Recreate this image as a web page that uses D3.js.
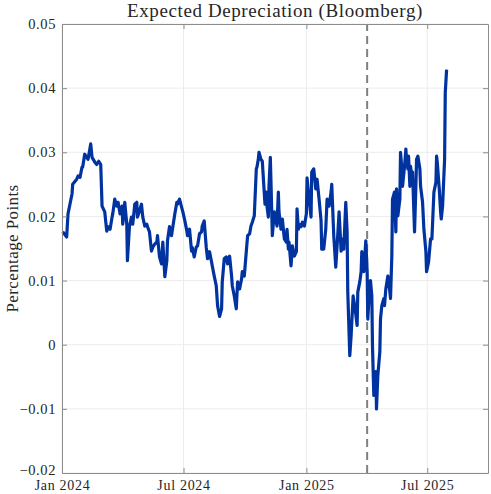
<!DOCTYPE html>
<html>
<head>
<meta charset="utf-8">
<script src="https://cdn.jsdelivr.net/npm/d3@7"></script>
<style>
  body { margin: 0; background: #fff; }
  svg text { font-family: "Liberation Serif", "DejaVu Serif", serif; fill: #262626; }
</style>
</head>
<body>
<div id="chart"></div>
<script>
// Expected depreciation, percentage points
var dates = [
  '2024-01-02','2024-01-08','2024-01-10','2024-01-16','2024-01-17','2024-01-23','2024-01-25','2024-01-28',
  '2024-01-31','2024-02-01','2024-02-04','2024-02-07','2024-02-09','2024-02-13','2024-02-15','2024-02-19',
  '2024-02-22','2024-02-25','2024-02-28','2024-03-01','2024-03-05','2024-03-08','2024-03-10','2024-03-13',
  '2024-03-16','2024-03-17','2024-03-20','2024-03-23','2024-03-25','2024-03-28','2024-03-31','2024-04-01',
  '2024-04-04','2024-04-07','2024-04-08','2024-04-11','2024-04-14','2024-04-16','2024-04-19','2024-04-22',
  '2024-04-23','2024-04-26','2024-04-29','2024-05-01','2024-05-04','2024-05-07','2024-05-08','2024-05-11',
  '2024-05-14','2024-05-16','2024-05-19','2024-05-22','2024-05-23','2024-05-26','2024-05-29','2024-05-31',
  '2024-06-03','2024-06-06','2024-06-07','2024-06-10','2024-06-13','2024-06-15','2024-06-18','2024-06-21',
  '2024-06-22','2024-06-25','2024-06-28','2024-06-30','2024-07-03','2024-07-06','2024-07-07','2024-07-10',
  '2024-07-13','2024-07-14','2024-07-17','2024-07-20','2024-07-22','2024-07-25','2024-07-28','2024-07-29',
  '2024-08-01','2024-08-04','2024-08-06','2024-08-09','2024-08-12','2024-08-13','2024-08-16','2024-08-19',
  '2024-08-21','2024-08-24','2024-08-27','2024-08-28','2024-08-31','2024-09-03','2024-09-05','2024-09-08',
  '2024-09-11','2024-09-12','2024-09-15','2024-09-18','2024-09-20','2024-09-23','2024-09-26','2024-09-27',
  '2024-09-30','2024-10-03','2024-10-05','2024-10-08','2024-10-10','2024-10-12','2024-10-15','2024-10-18',
  '2024-10-19','2024-10-21','2024-10-22','2024-10-25','2024-10-27','2024-10-28','2024-10-31','2024-11-02',
  '2024-11-03','2024-11-05','2024-11-06','2024-11-08','2024-11-09','2024-11-11','2024-11-14','2024-11-17',
  '2024-11-18','2024-11-20','2024-11-21','2024-11-24','2024-11-26','2024-11-29','2024-12-02','2024-12-03',
  '2024-12-05','2024-12-06','2024-12-09','2024-12-11','2024-12-14','2024-12-17','2024-12-18','2024-12-20',
  '2024-12-21','2024-12-24','2024-12-26','2024-12-29','2025-01-01','2025-01-02','2025-01-05','2025-01-08',
  '2025-01-09','2025-01-12','2025-01-15','2025-01-17','2025-01-20','2025-01-23','2025-01-24','2025-01-27',
  '2025-01-30','2025-02-01','2025-02-04','2025-02-07','2025-02-08','2025-02-11','2025-02-14','2025-02-16',
  '2025-02-19','2025-02-22','2025-02-23','2025-02-26','2025-03-01','2025-03-03','2025-03-04','2025-03-07',
  '2025-03-09','2025-03-12','2025-03-15','2025-03-18','2025-03-19','2025-03-22','2025-03-24','2025-03-25',
  '2025-03-28','2025-03-31','2025-04-02','2025-04-03','2025-04-06','2025-04-07','2025-04-09','2025-04-10',
  '2025-04-12','2025-04-15','2025-04-16','2025-04-18','2025-04-21','2025-04-22','2025-04-24','2025-04-27',
  '2025-04-28','2025-04-30','2025-05-03','2025-05-04','2025-05-07','2025-05-09','2025-05-10','2025-05-13',
  '2025-05-15','2025-05-16','2025-05-18','2025-05-21','2025-05-22','2025-05-24','2025-05-25','2025-05-28',
  '2025-05-30','2025-05-31','2025-06-02','2025-06-03','2025-06-05','2025-06-06','2025-06-08','2025-06-09',
  '2025-06-12','2025-06-14','2025-06-15','2025-06-17','2025-06-20','2025-06-21','2025-06-24','2025-06-26',
  '2025-06-29','2025-06-30','2025-07-03','2025-07-06','2025-07-08','2025-07-11','2025-07-14','2025-07-15',
  '2025-07-16','2025-07-19','2025-07-21','2025-07-22','2025-07-24','2025-07-27','2025-07-28','2025-07-30'
];

var values = [
  0.0176,0.0168,0.0204,0.0235,0.0250,0.0258,0.0263,0.0261,
  0.0277,0.0277,0.0297,0.0292,0.0289,0.0313,0.0292,0.0285,
  0.0281,0.0286,0.0281,0.0216,0.0207,0.0177,0.0184,0.0180,
  0.0199,0.0204,0.0227,0.0216,0.0222,0.0204,0.0216,0.0188,
  0.0222,0.0188,0.0131,0.0184,0.0199,0.0188,0.0219,0.0222,
  0.0199,0.0208,0.0219,0.0199,0.0185,0.0188,0.0184,0.0176,
  0.0146,0.0152,0.0157,0.0160,0.0170,0.0137,0.0126,0.0160,
  0.0106,0.0131,0.0162,0.0184,0.0170,0.0184,0.0204,0.0222,
  0.0219,0.0227,0.0215,0.0207,0.0193,0.0177,0.0170,0.0180,
  0.0146,0.0152,0.0137,0.0152,0.0154,0.0173,0.0176,0.0185,
  0.0193,0.0152,0.0134,0.0145,0.0129,0.0123,0.0107,0.0092,
  0.0061,0.0044,0.0056,0.0098,0.0134,0.0137,0.0126,0.0138,
  0.0107,0.0092,0.0076,0.0056,0.0098,0.0087,0.0103,0.0114,
  0.0107,0.0145,0.0170,0.0173,0.0185,0.0191,0.0201,0.0274,
  0.0277,0.0289,0.0300,0.0289,0.0286,0.0269,0.0219,0.0238,
  0.0216,0.0199,0.0247,0.0292,0.0253,0.0170,0.0207,0.0191,
  0.0185,0.0238,0.0207,0.0180,0.0196,0.0165,0.0160,0.0180,
  0.0149,0.0160,0.0123,0.0154,0.0138,0.0145,0.0212,0.0180,
  0.0188,0.0184,0.0191,0.0185,0.0204,0.0260,0.0227,0.0199,
  0.0269,0.0274,0.0243,0.0258,0.0227,0.0193,0.0149,0.0149,
  0.0180,0.0227,0.0216,0.0238,0.0250,0.0170,0.0121,0.0154,
  0.0207,0.0146,0.0165,0.0149,0.0222,0.0176,0.0082,-0.0017,
  0.0014,0.0076,0.0056,0.0030,0.0082,0.0098,0.0114,0.0145,
  0.0114,0.0162,0.0114,0.0040,0.0098,0.0100,0.0076,-0.0002,
  -0.0079,-0.0042,-0.0100,-0.0048,-0.0011,0.0040,0.0061,0.0072,
  0.0061,0.0087,0.0107,0.0103,0.0072,0.0140,0.0227,0.0238,
  0.0176,0.0243,0.0201,0.0227,0.0300,0.0274,0.0247,0.0278,
  0.0305,0.0289,0.0274,0.0294,0.0247,0.0278,0.0263,0.0269,
  0.0176,0.0247,0.0289,0.0294,0.0274,0.0247,0.0222,0.0180,
  0.0145,0.0114,0.0129,0.0165,0.0165,0.0238,0.0253,0.0294,
  0.0285,0.0243,0.0207,0.0196,0.0216,0.0289,0.0393,0.0429
];

var yTicks = [-0.02, -0.01, 0, 0.01, 0.02, 0.03, 0.04, 0.05];
var xTickDates = ['2024-01-01', '2024-07-01', '2025-01-01', '2025-07-01'];
var xTickLabels = ['Jan 2024', 'Jul 2024', 'Jan 2025', 'Jul 2025'];
var eventDate = '2025-04-02';

var width = 491, height = 494;
var margin = { top: 24, right: 3, bottom: 21, left: 62 };
var parse = d3.timeParse('%Y-%m-%d');

var data = dates.map((d, i) => ({ date: parse(d), value: values[i] }));

var x = d3.scaleTime()
  .domain([parse('2024-01-01'), parse('2025-09-30')])
  .range([margin.left, width - margin.right]);

var y = d3.scaleLinear()
  .domain([-0.02, 0.05])
  .range([height - margin.bottom, margin.top]);

var svg = d3.select('#chart').append('svg')
  .attr('width', width)
  .attr('height', height);

// grid
svg.append('g')
  .selectAll('line')
  .data(yTicks)
  .join('line')
  .attr('x1', x.range()[0]).attr('x2', x.range()[1])
  .attr('y1', (d) => y(d)).attr('y2', (d) => y(d))
  .attr('stroke', '#ececec');

svg.append('g')
  .selectAll('line')
  .data(xTickDates.map(parse))
  .join('line')
  .attr('x1', (d) => x(d)).attr('x2', (d) => x(d))
  .attr('y1', y.range()[0]).attr('y2', y.range()[1])
  .attr('stroke', '#ececec');

// event marker
svg.append('line')
  .attr('x1', x(parse(eventDate))).attr('x2', x(parse(eventDate)))
  .attr('y1', y.range()[0]).attr('y2', y.range()[1])
  .attr('stroke', '#808080')
  .attr('stroke-width', 2)
  .attr('stroke-dasharray', '8,5');

// series
svg.append('path')
  .datum(data)
  .attr('fill', 'none')
  .attr('stroke', '#0033a0')
  .attr('stroke-width', 3.2)
  .attr('stroke-linejoin', 'round')
  .attr('d', d3.line().x((d) => x(d.date)).y((d) => y(d.value)));

// axes (box with inward ticks)
var tickLen = 5;
function styleAxis(g) {
  g.attr('font-size', null).attr('font-family', null);
  g.select('.domain').attr('stroke', '#8c8c8c');
  g.selectAll('.tick line').attr('stroke', '#8c8c8c');
}

svg.append('g')
  .attr('transform', `translate(${margin.left},0)`)
  .call(d3.axisLeft(y).tickValues(yTicks).tickSizeInner(-tickLen).tickSizeOuter(0)
    .tickPadding(tickLen + 1).tickFormat((d) => d === 0 ? '0' : d3.format('.2f')(d)))
  .call(styleAxis)
  .selectAll('text').attr('font-size', 14.5).attr('letter-spacing', 0.6)
  .attr('dy', (d) => d === -0.02 ? '0.1em' : '0.32em');

svg.append('g')
  .attr('transform', `translate(${width - margin.right},0)`)
  .call(d3.axisRight(y).tickValues(yTicks).tickSizeInner(-tickLen).tickSizeOuter(0).tickFormat(''))
  .call(styleAxis);

svg.append('g')
  .attr('transform', `translate(0,${height - margin.bottom})`)
  .call(d3.axisBottom(x).tickValues(xTickDates.map(parse)).tickSizeInner(-tickLen).tickSizeOuter(0)
    .tickPadding(tickLen + 2).tickFormat((d, i) => xTickLabels[i]))
  .call(styleAxis)
  .selectAll('text').attr('font-size', 14).attr('letter-spacing', 0.7);

svg.append('g')
  .attr('transform', `translate(0,${margin.top})`)
  .call(d3.axisTop(x).tickValues(xTickDates.map(parse)).tickSizeInner(-tickLen).tickSizeOuter(0).tickFormat(''))
  .call(styleAxis);

// titles
svg.append('text')
  .attr('x', (x.range()[0] + x.range()[1]) / 2)
  .attr('y', 17)
  .attr('text-anchor', 'middle')
  .attr('font-size', 19)
  .attr('letter-spacing', 0.6)
  .text('Expected Depreciation (Bloomberg)');

svg.append('text')
  .attr('transform', `translate(18,${(y.range()[0] + y.range()[1]) / 2}) rotate(-90)`)
  .attr('text-anchor', 'middle')
  .attr('font-size', 17)
  .attr('letter-spacing', 0.4)
  .text('Percentage Points');
</script>
</body>
</html>
